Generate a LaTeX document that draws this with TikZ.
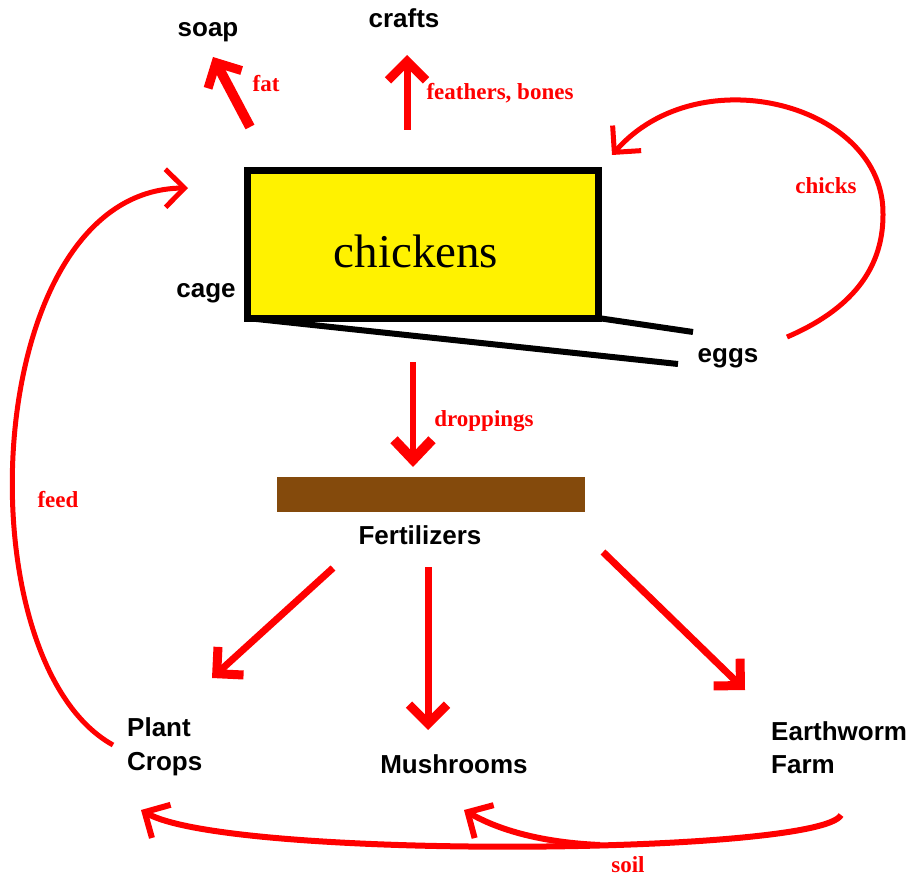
\documentclass[tikz,border=0pt]{standalone}
\usepackage{fontspec}
\setmainfont{Liberation Serif}
\newfontfamily\labfont{Liberation Sans}
\usetikzlibrary{arrows.meta}
\definecolor{fertbrown}{RGB}{132,74,12}
\tikzset{
  blk/.style={inner sep=0pt, anchor=base, font=\labfont\bfseries\fontsize{26}{30}\selectfont},
  blkw/.style={inner sep=0pt, anchor=base west, font=\labfont\bfseries\fontsize{26}{30}\selectfont},
  rlab/.style={inner sep=0pt, anchor=base, text=red, font=\bfseries\fontsize{23}{26}\selectfont},
  rarr/.style={draw=red, line width=#1, -{Straight Barb[length=19pt,width=38pt]}},
  harr/.style={draw=red, line width=#1, -{Straight Barb[length=19pt,width=38pt,line width=9pt]}},
  shelf/.style={draw=black, line width=6pt},
}
\begin{document}
\begin{tikzpicture}[x=1pt,y=-1pt]
\useasboundingbox (0,0) rectangle (910,877);

% cage box
\node[draw=black, line width=7pt, fill=yellow, minimum width=351pt, minimum height=147pt, inner sep=0pt, outer sep=0pt] (coop) at (422.5,244.5) {};
\node[inner sep=0pt, anchor=base, font=\fontsize{47}{50}\selectfont] (chickens) at (416,268) {chickens};
\coordinate (shelfA) at (678,364);
\coordinate (shelfB) at (693,332);
\draw[shelf] (coop.south west) -- (shelfA);
\draw[shelf] (coop.south east) -- (shelfB);

% black labels
\node[blk] (soap) at (208,37) {soap};
\node[blk] (crafts) at (404,28) {crafts};
\node[blk] (cagelbl) at (206,298) {cage};
\node[blk] (eggs) at (728,362) {eggs};
\node[blk] (fert) at (420,544) {Fertilizers};
\node[blkw] (plant1) at (127,736) {Plant};
\node[blkw] (plant2) at (127,770) {Crops};
\node[blk] (mush) at (454,773) {Mushrooms};
\node[blkw] (earth1) at (771,740) {Earthworm};
\node[blkw] (earth2) at (771,773) {Farm};

% red labels
\node[rlab] (fat) at (266,92) {fat};
\node[rlab] (feath) at (500,100) {feathers, bones};
\node[rlab] (chicks) at (826,194) {chicks};
\node[rlab] (drop) at (484,426) {droppings};
\node[rlab] (feed) at (58,507) {feed};
\node[rlab] (soil) at (628,872) {soil};

% fertilizer bar
\node[fill=fertbrown, minimum width=308pt, minimum height=35pt, inner sep=0pt, outer sep=0pt] (bar) at (431,494.5) {};

% coordinates for arrows
\coordinate (fatT) at (250,127);  \coordinate (fatH) at (213,57);
\coordinate (crT) at (407,130);   \coordinate (crH) at (407,55);
\coordinate (drT) at (413,362);   \coordinate (drH) at (413,467);
\coordinate (lfT) at (333,568);   \coordinate (lfH) at (212,678);
\coordinate (mfT) at (428,567);   \coordinate (mfH) at (428,730);
\coordinate (rfT) at (603,552);   \coordinate (rfH) at (745,690);
\coordinate (chT) at (787,337);   \coordinate (chM) at (883,215); \coordinate (chH) at (612,155);
\coordinate (fdT) at (113,745);   \coordinate (fdH) at (188,188);
\coordinate (soT) at (841,815);   \coordinate (soH) at (141,810);
\coordinate (sbT) at (600,845);   \coordinate (sbH) at (464,810);

% straight arrows
\draw[harr=10pt] (fatT) -- (fatH);
\draw[harr=7pt] (crT) -- (crH);
\draw[draw=red, line width=6pt, -{Straight Barb[length=20pt,width=38pt,line width=10pt]}] (drT) -- (drH);
\draw[harr=7pt] (lfT) -- (lfH);
\draw[harr=7pt] (mfT) -- (mfH);
\draw[harr=7pt] (rfT) -- (rfH);

% curved arrows
\draw[rarr=5pt] (chT) .. controls (850,310) and (883,270) .. (chM)
  .. controls (885,105) and (700,55) .. (chH);
\draw[rarr=5pt] (fdT) .. controls (-40,660) and (-20,190) .. (fdH);
\draw[rarr=6pt] (soT) .. controls (820,855) and (230,860) .. (soH);
\draw[rarr=6pt] (sbT) .. controls (530,842) and (490,825) .. (sbH);
\end{tikzpicture}
\end{document}
